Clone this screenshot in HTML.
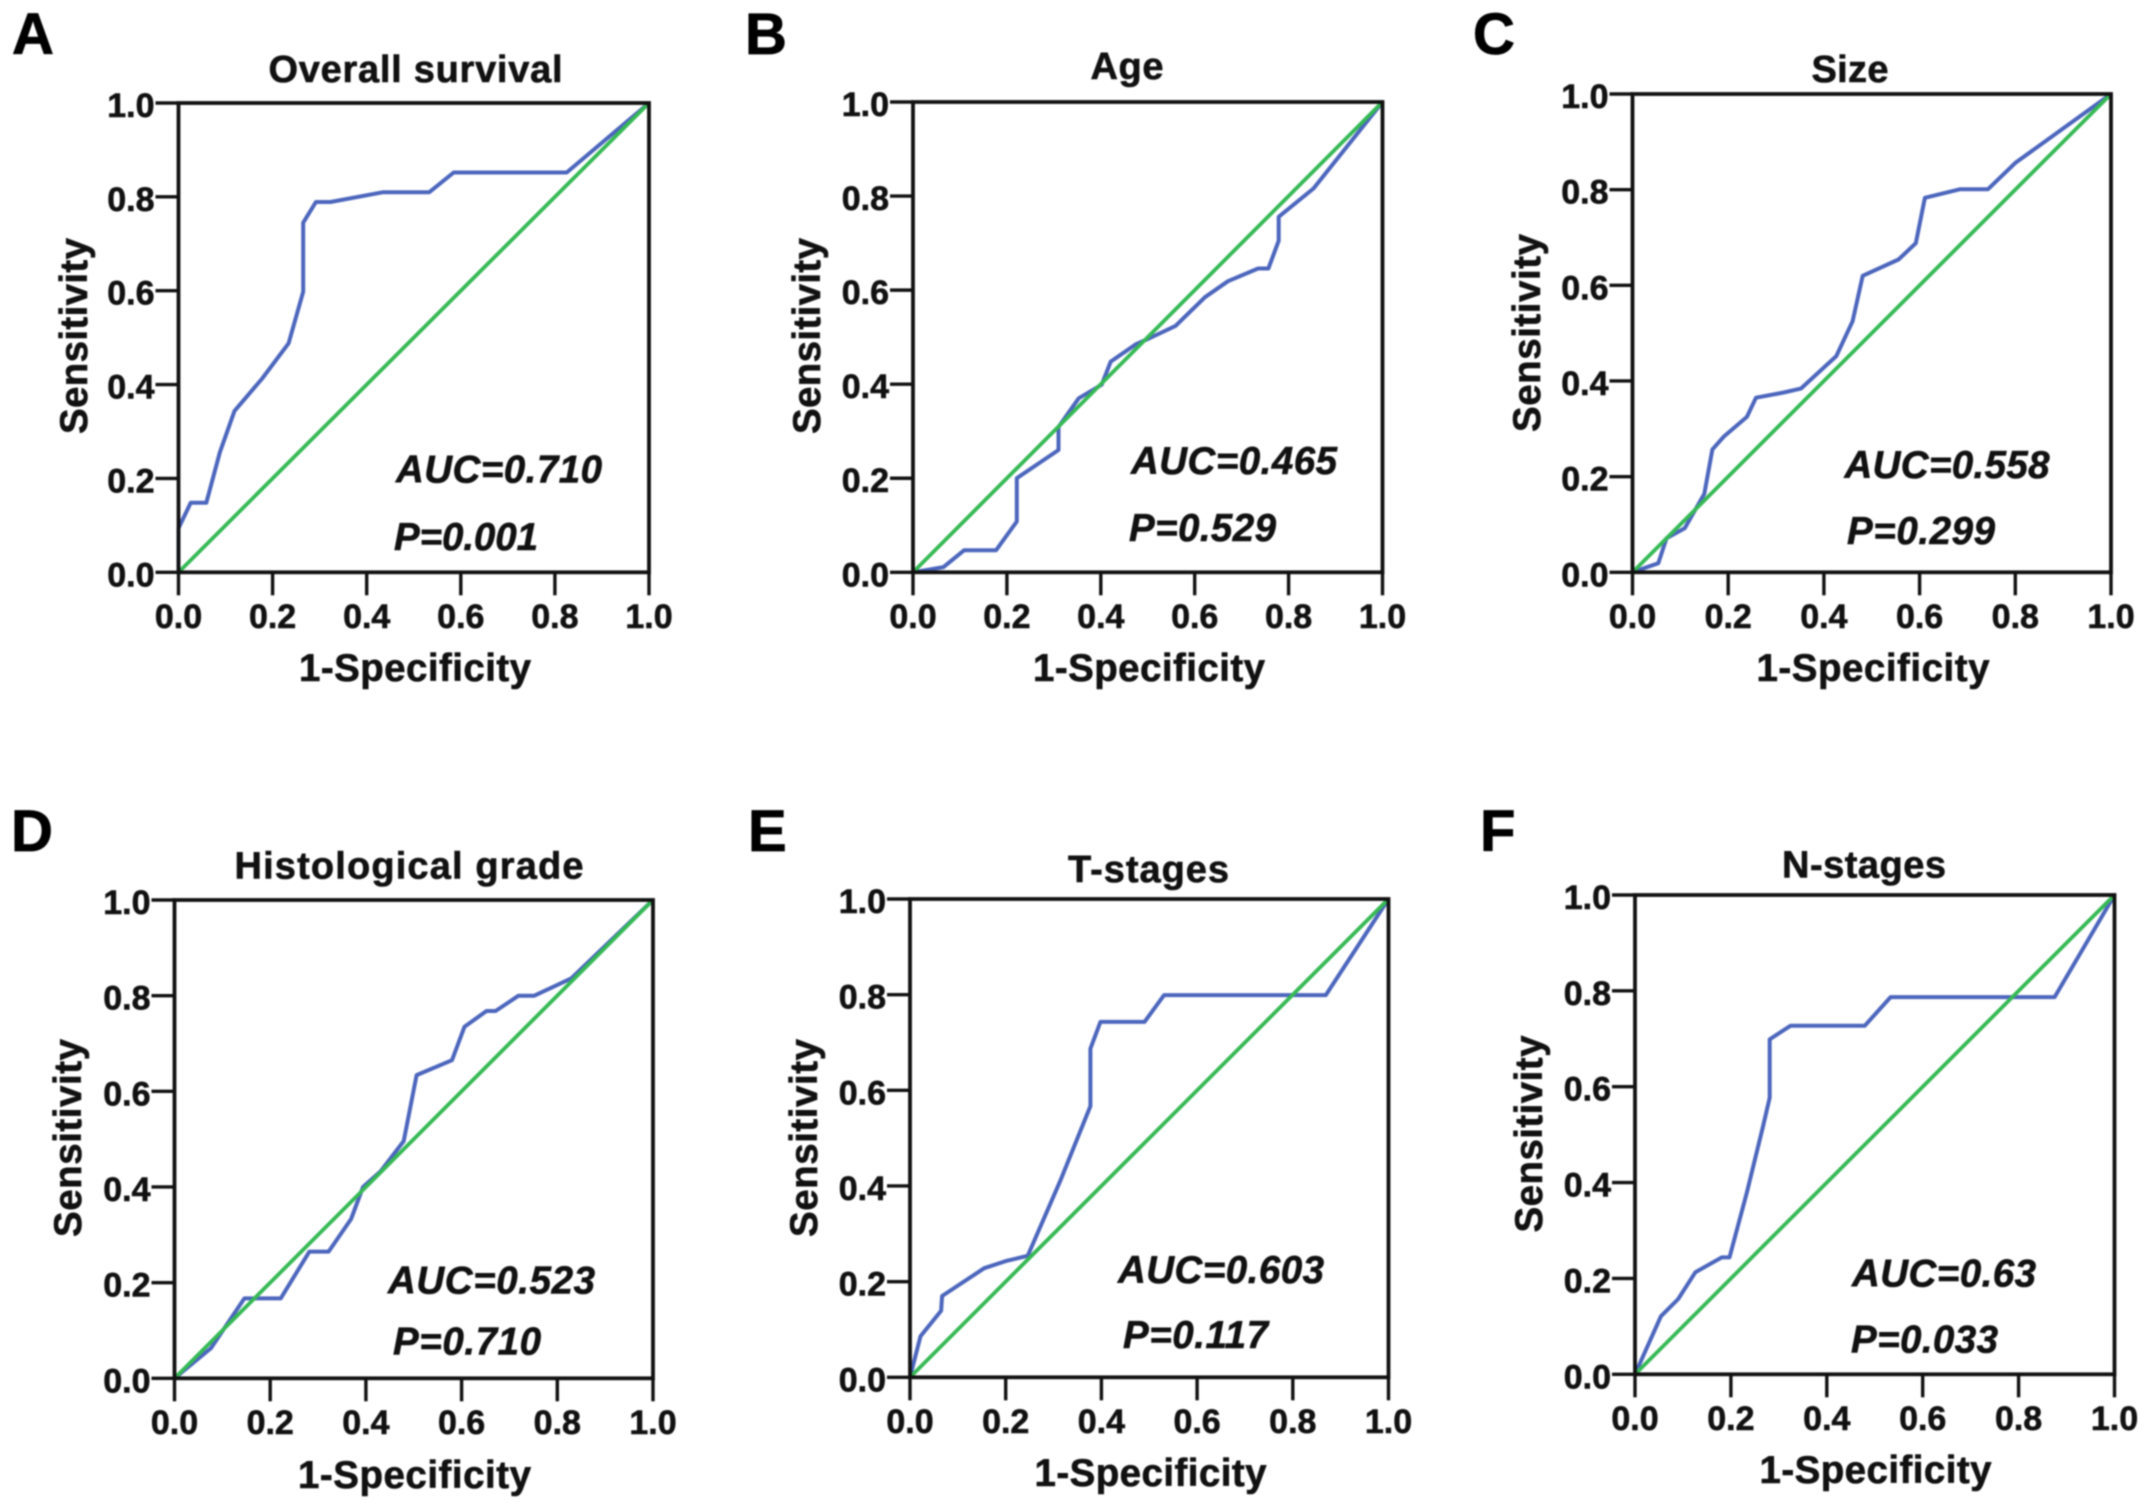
<!DOCTYPE html>
<html lang="en">
<head>
<meta charset="utf-8">
<title>ROC curves</title>
<style>
html,body{margin:0;padding:0;background:#fff;width:2150px;height:1509px;overflow:hidden}
svg{display:block;filter:blur(0.8px)}
text{font-family:"Liberation Sans",Arial,sans-serif;font-weight:bold;fill:#111;stroke:#111;stroke-width:0.6px}
.letter{font-size:58px;fill:#000;stroke:#000;stroke-width:0.8px}
.title{font-size:38px;text-anchor:middle}
.axt{font-size:38.5px;text-anchor:middle}
.stat{font-size:38.5px;font-style:italic}
.tick{font-size:34px}
</style>
</head>
<body>
<svg id="figure" width="2150" height="1509" viewBox="0 0 2150 1509" xmlns="http://www.w3.org/2000/svg">
  <rect width="2150" height="1509" fill="#fff"/>

  <g id="panel-a">
    <text class="letter" x="12" y="54">A</text>
    <text class="title" x="415.5" y="82" textLength="294">Overall survival</text>
    <text class="axt" transform="translate(87,336) rotate(-90)" textLength="196">Sensitivity</text>
    <text class="axt" x="415" y="681" textLength="232">1-Specificity</text>
    <text class="stat" x="396" y="482.5" textLength="206">AUC=0.710</text>
    <text class="stat" x="394" y="550" textLength="144">P=0.001</text>
  </g>

  <g id="panel-b">
    <text class="letter" x="745" y="54">B</text>
    <text class="title" x="1127" y="79" textLength="73">Age</text>
    <text class="axt" transform="translate(820,336) rotate(-90)" textLength="196">Sensitivity</text>
    <text class="axt" x="1149" y="681" textLength="232">1-Specificity</text>
    <text class="stat" x="1131" y="474" textLength="206">AUC=0.465</text>
    <text class="stat" x="1129" y="541" textLength="147">P=0.529</text>
  </g>

  <g id="panel-c">
    <text class="letter" x="1473" y="54">C</text>
    <text class="title" x="1850" y="82" textLength="77">Size</text>
    <text class="axt" transform="translate(1540,333) rotate(-90)" textLength="198">Sensitivity</text>
    <text class="axt" x="1873" y="681" textLength="233">1-Specificity</text>
    <text class="stat" x="1844.5" y="478" textLength="205">AUC=0.558</text>
    <text class="stat" x="1847" y="544" textLength="148">P=0.299</text>
  </g>

  <g id="panel-d">
    <text class="letter" x="11" y="851">D</text>
    <text class="title" x="409" y="878.5" textLength="349">Histological grade</text>
    <text class="axt" transform="translate(81,1138) rotate(-90)" textLength="198">Sensitivity</text>
    <text class="axt" x="414.5" y="1488" textLength="233">1-Specificity</text>
    <text class="stat" x="388" y="1293.5" textLength="207">AUC=0.523</text>
    <text class="stat" x="393" y="1354.5" textLength="148">P=0.710</text>
  </g>

  <g id="panel-e">
    <text class="letter" x="748" y="851">E</text>
    <text class="title" x="1148.5" y="882" textLength="161">T-stages</text>
    <text class="axt" transform="translate(817,1138) rotate(-90)" textLength="198">Sensitivity</text>
    <text class="axt" x="1150.5" y="1486" textLength="232">1-Specificity</text>
    <text class="stat" x="1118" y="1283" textLength="206">AUC=0.603</text>
    <text class="stat" x="1123" y="1348" textLength="145">P=0.117</text>
  </g>

  <g id="panel-f">
    <text class="letter" x="1480" y="851">F</text>
    <text class="title" x="1864" y="877.6" textLength="164">N-stages</text>
    <text class="axt" transform="translate(1542,1134) rotate(-90)" textLength="197">Sensitivity</text>
    <text class="axt" x="1875.5" y="1483" textLength="232">1-Specificity</text>
    <text class="stat" x="1852" y="1286.5" textLength="184">AUC=0.63</text>
    <text class="stat" x="1851" y="1352.5" textLength="147">P=0.033</text>
  </g>
</svg>

<script>
// Chart data
var tickValues = [0, 0.2, 0.4, 0.6, 0.8, 1];
var tickLabels = ["0.0", "0.2", "0.4", "0.6", "0.8", "1.0"];
var referenceFpr = [0, 1];
var referenceTpr = [0, 1];

var fprA = [0,0,0.026,0.059,0.088,0.119,0.178,0.234,0.265,0.265,0.292,0.323,0.435,0.533,0.585,0.825,1];
var tprA = [0,0.094,0.148,0.148,0.256,0.344,0.413,0.488,0.598,0.745,0.789,0.789,0.81,0.81,0.852,0.852,1];

var fprB = [0,0.065,0.109,0.177,0.221,0.221,0.31,0.31,0.353,0.402,0.421,0.475,0.5,0.559,0.622,0.671,0.735,0.757,0.779,0.779,0.853,1];
var tprB = [0,0.011,0.047,0.047,0.108,0.2,0.26,0.309,0.37,0.399,0.448,0.485,0.496,0.524,0.585,0.619,0.646,0.646,0.705,0.756,0.816,1];

var fprC = [0,0.054,0.071,0.109,0.15,0.167,0.191,0.239,0.258,0.316,0.352,0.426,0.46,0.481,0.556,0.592,0.611,0.685,0.743,0.8,1];
var tprC = [0,0.019,0.071,0.092,0.164,0.257,0.284,0.325,0.365,0.376,0.384,0.452,0.525,0.62,0.654,0.688,0.783,0.801,0.801,0.856,1];

var fprD = [0,0.076,0.146,0.222,0.282,0.322,0.369,0.394,0.431,0.479,0.506,0.58,0.606,0.652,0.671,0.719,0.752,0.829,1];
var tprD = [0,0.063,0.167,0.167,0.265,0.265,0.333,0.4,0.433,0.496,0.634,0.665,0.735,0.768,0.768,0.8,0.8,0.836,1];

var fprE = [0,0.022,0.065,0.067,0.155,0.2,0.246,0.315,0.377,0.377,0.398,0.49,0.531,0.869,1];
var tprE = [0,0.086,0.139,0.17,0.228,0.243,0.254,0.413,0.567,0.687,0.743,0.743,0.799,0.799,1];

var fprF = [0,0.054,0.09,0.126,0.181,0.197,0.233,0.267,0.281,0.281,0.324,0.479,0.533,0.875,1];
var tprF = [0,0.121,0.157,0.213,0.244,0.244,0.378,0.517,0.577,0.699,0.727,0.727,0.787,0.787,1];

// Panel frames (layout only)
var frames = [
  {id:"a", left:178.5, right:649,    top:103, bottom:572.3,  fpr:fprA, tpr:tprA},
  {id:"b", left:913,   right:1382.5, top:102, bottom:572.3,  fpr:fprB, tpr:tprB},
  {id:"c", left:1632.5, right:2111,  top:94,  bottom:572.3,  fpr:fprC, tpr:tprC},
  {id:"d", left:174.5, right:653,    top:900, bottom:1378.3, fpr:fprD, tpr:tprD},
  {id:"e", left:910,   right:1388.5, top:899, bottom:1377.3, fpr:fprE, tpr:tprE},
  {id:"f", left:1635,  right:2114.5, top:895, bottom:1374.3, fpr:fprF, tpr:tprF}
];

var NS = "http://www.w3.org/2000/svg";
function make(tag, parent, attrs) {
  var el = document.createElementNS(NS, tag);
  for (var k in attrs) { el.setAttribute(k, attrs[k]); }
  parent.appendChild(el);
  return el;
}

function drawPanel(f) {
  var g = document.getElementById("panel-" + f.id);
  function xScale(v) { return f.left + v * (f.right - f.left); }
  function yScale(v) { return f.bottom - v * (f.bottom - f.top); }
  function toPoints(xs, ys) {
    return xs.map(function (x, i) { return xScale(x).toFixed(1) + "," + yScale(ys[i]).toFixed(1); }).join(" ");
  }

  tickValues.forEach(function (v, i) {
    var xt = make("line", g, {x1:xScale(v), x2:xScale(v), y1:f.bottom, y2:f.bottom + 23, stroke:"#111", "stroke-width":3.4});
    
    
    var yt = make("line", g, {x1:f.left - 23, x2:f.left, y1:yScale(v), y2:yScale(v), stroke:"#111", "stroke-width":3.4});
    
    
    var xl = make("text", g, {"class":"tick", x:xScale(v), y:f.bottom + 55.5, "text-anchor":"middle"});
    xl.textContent = tickLabels[i];
    
    
    var yl = make("text", g, {"class":"tick", x:f.left - 24, y:yScale(v) + 14, "text-anchor":"end"});
    yl.textContent = tickLabels[i];
    
    
  });

  var curve = make("polyline", g, {points:toPoints(f.fpr, f.tpr), fill:"none", stroke:"#4c66bd", "stroke-width":4, "stroke-linejoin":"round"});
  
  

  var ref = make("polyline", g, {points:toPoints(referenceFpr, referenceTpr), fill:"none", stroke:"#36b955", "stroke-width":3.8});
  
  

  var frame = make("rect", g, {x:f.left, y:f.top, width:f.right - f.left, height:f.bottom - f.top, fill:"none", stroke:"#111", "stroke-width":3.8});
  
  
}

frames.forEach(drawPanel);
</script>
</body>
</html>
